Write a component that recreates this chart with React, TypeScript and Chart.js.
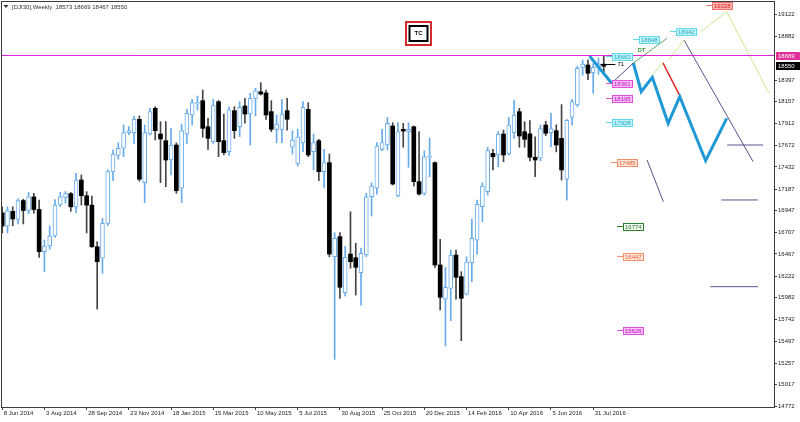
import React, { useEffect, useRef } from 'react';
import { Chart, registerables } from 'chart.js';

Chart.register(...registerables);

const FONT = "'Liberation Sans', Arial, sans-serif";

// ---- header ----
const symbolTitle = '[DJI30],Weekly';

// ---- weekly candles (index 0 = week of 8 Jun 2014) ----
const opens = [
  16924, 16776, 16940, 16851, 17060, 16950, 17100, 16960, 16492, 16555,
  16666, 17010, 17095, 17137, 16990, 17288, 17113, 17009, 16547, 16420,
  16807, 17380, 17560, 17640, 17813, 17813, 17961, 17258, 17798, 18083,
  17798, 17724, 17510, 17676, 17196, 17798, 18009, 18131, 18168, 17879,
  17713, 18157, 17724, 17602, 18057, 17879, 18109, 18020, 18194, 18267,
  18254, 18046, 17850, 17850, 18057, 17651, 17472, 17700, 18072, 17602,
  17724, 17380, 17480, 16436, 16659, 16037, 16466, 16425, 16259, 16455,
  17102, 17196, 17628, 17676, 17887, 17110, 17850, 17824, 17879, 17269,
  17140, 17540, 17480, 16345, 15964, 16085, 16455, 16215, 16022, 16370,
  16619, 16991, 17158, 17584, 17565, 17798, 17576, 17813, 18046, 17824,
  17800, 17540, 17530, 17898, 17813, 17835, 17750, 17296, 17983, 18120,
  18538, 18564, 18478, 18538, 18573,
];
const highs = [
  16990, 16990, 16990, 17080, 17075, 17150, 17140, 17065, 16622, 16777,
  17070, 17150, 17160, 17150, 17362, 17343, 17158, 17110, 16603, 16862,
  17400, 17620, 17700, 17898, 17880, 17998, 17998, 17898, 18083, 18101,
  17935, 17935, 17861, 17700, 17909, 18072, 18183, 18220, 18286, 17972,
  18183, 18170, 18020, 18100, 18101, 18157, 18194, 18250, 18306, 18368,
  18286, 18168, 18009, 18183, 18194, 17835, 17850, 18157, 18146, 17798,
  17739, 17628, 17576, 16703, 16703, 16550, 16936, 16585, 16533, 17140,
  17258, 17702, 17850, 17983, 17924, 17924, 17917, 17924, 17887, 17824,
  17613, 17752, 17490, 16630, 16319, 16511, 16511, 16270, 16436, 16851,
  17065, 17258, 17651, 17629, 17824, 17842, 17983, 18175, 18083, 17935,
  17946, 17768, 17900, 17940, 18028, 17900, 18124, 17960, 18180, 18550,
  18620, 18620, 18580, 18640, 18669,
];
const lows = [
  16700, 16700, 16780, 16800, 16800, 16910, 16920, 16430, 16270, 16520,
  16650, 16990, 17030, 16940, 16925, 17010, 16700, 16540, 15855, 16252,
  16780, 17280, 17520, 17546, 17790, 17695, 17274, 17036, 17787, 17731,
  17258, 17214, 17343, 17140, 17036, 17695, 17898, 18064, 17762, 17628,
  17695, 17546, 17565, 17560, 17750, 17768, 17917, 17676, 18000, 18230,
  17961, 17824, 17702, 17702, 17842, 17576, 17443, 17602, 17546, 17399,
  17280, 17200, 16436, 15298, 15975, 16000, 16308, 16011, 15900, 16436,
  16888, 17130, 17613, 17620, 17232, 17102, 17651, 17428, 17221, 17120,
  17121, 17324, 16319, 15845, 15446, 15727, 15964, 15505, 16011, 16159,
  16466, 16825, 17121, 17400, 17436, 17491, 17565, 17750, 17651, 17651,
  17500, 17324, 17500, 17780, 17657, 17600, 17288, 17065, 17900, 18100,
  18450, 18400, 18250, 18460, 18467,
];
const closes = [
  16776, 16947, 16855, 17060, 16950, 17100, 16960, 16492, 16555, 16666,
  17010, 17100, 17137, 16990, 17288, 17113, 17009, 16547, 16381, 16807,
  17380, 17576, 17640, 17813, 17835, 17961, 17296, 17813, 18046, 17835,
  17743, 17510, 17676, 17169, 17835, 18028, 18146, 18146, 17861, 17750,
  18113, 17713, 17591, 18065, 17835, 18094, 18020, 18194, 18278, 18242,
  18009, 17850, 17909, 18020, 17961, 17731, 17768, 18094, 17565, 17702,
  17380, 17480, 16466, 16641, 16097, 16430, 16381, 16319, 16475, 17102,
  17221, 17665, 17702, 17917, 17243, 17824, 17831, 17850, 17269, 17132,
  17546, 17548, 16345, 15986, 16097, 16455, 16208, 15975, 16381, 16641,
  17018, 17221, 17613, 17546, 17798, 17565, 17898, 18009, 17776, 17739,
  17540, 17510, 17857, 17806, 17857, 17676, 17399, 17950, 18157, 18527,
  18575, 18472, 18538, 18576, 18550,
];

// ---- axis ticks ----
const dateTickIdx = [0, 8, 16, 24, 32, 40, 48, 56, 64, 72, 80, 88, 96, 104, 112];
const dateTickLabels = [
  '8 Jun 2014', '3 Aug 2014', '28 Sep 2014', '23 Nov 2014', '18 Jan 2015',
  '15 Mar 2015', '10 May 2015', '5 Jul 2015', '30 Aug 2015', '25 Oct 2015',
  '20 Dec 2015', '14 Feb 2016', '10 Apr 2016', '5 Jun 2016', '31 Jul 2016',
];
const priceTicks = [
  19122, 18882, 18397, 18157, 17912, 17672, 17432, 17187, 16947, 16707,
  16467, 16222, 15982, 15742, 15497, 15257, 15017, 14772,
];

// ---- drawn objects: [bar index, price] ----
const resistanceLevel = 18669;
const blueWaveA: [number, number][] = [[111.3, 18664], [115.5, 18361]];
const blueWaveB: [number, number][] = [
  [119.6, 18586], [121.1, 18267], [123.2, 18427], [126.2, 17917],
  [128.4, 18212], [133.3, 17502], [137.3, 17972],
];
const slateLink: [number, number][] = [[115.5, 18361], [119.6, 18586]];
const dtLine: [number, number][] = [[119.6, 18586], [126.0, 18860]];
const redLeg: [number, number][] = [[125.2, 18589], [128.4, 18223]];
const limeA: [number, number][] = [[123.2, 18453], [125.3, 18597]];
const limeB: [number, number][] = [[126.3, 18619], [129.2, 18841]];
const limeC: [number, number][] = [[132.3, 18930], [137.3, 19155], [145.3, 18253]];
const slateDiagA: [number, number][] = [[129.2, 18841], [142.3, 17491]];
const slateDiagB: [number, number][] = [[122.2, 17510], [125.3, 17047]];
const slateFlatA: [number, number][] = [[137.4, 17676], [144.2, 17676]];
const slateFlatB: [number, number][] = [[136.3, 17066], [143.2, 17066]];
const slateFlatC: [number, number][] = [[134.2, 16104], [143.2, 16104]];

// price tags
const tagValues = [19228, 18942, 18848, 18663, 18361, 18195, 17928, 17485, 16774, 16447, 15626];
const tagIdx = [134.6, 127.6, 120.6, 115.6, 115.6, 115.6, 115.6, 116.5, 117.6, 117.6, 117.6];
const tagKinds = ['red', 'cyan', 'cyan', 'cyan', 'magenta', 'magenta', 'cyan', 'orange', 'green', 'orange', 'magenta'];

const dtText = { idx: 120.4, value: 18730, text: 'DT' };
const counterMark = { fromIdx: 113.4, toIdx: 116.2, value: 18575, text: '71' };

const axisMarkValues = [18669, 18550];
const axisMarkKinds = ['magenta', 'black'];

// ---- styles ----
const BULL = '#67abeb';
const BEAR = '#000000';
const BEAR_WICK = '#444444';
const TAG_STYLE: Record<string, { fill: string; stroke: string; text: string }> = {
  red: { fill: '#f9b4b4', stroke: '#f07070', text: '#e02020' },
  cyan: { fill: '#bff3fa', stroke: '#5fd8ea', text: '#27a9c4' },
  magenta: { fill: '#f8c0f8', stroke: '#e050e0', text: '#c010c0' },
  orange: { fill: '#fde3d6', stroke: '#f29070', text: '#e8643c' },
  green: { fill: '#f2faf2', stroke: '#2e7d32', text: '#2e7d32' },
};
const AXIS_MARK_FILL: Record<string, string> = { magenta: '#e0309a', black: '#000000' };

const X_MIN = -0.038;
const X_MAX = 146.26;
const Y_MIN = 14768.8;
const Y_MAX = 19262.9;

function lineDs(pts: [number, number][], color: string, width: number) {
  return {
    type: 'line' as const,
    data: pts.map(([x, y]) => ({ x, y })),
    borderColor: color,
    backgroundColor: color,
    borderWidth: width,
    pointRadius: 0,
    pointHoverRadius: 0,
    tension: 0,
    fill: false,
    order: 0,
  };
}

export default function App() {
  const ref = useRef<HTMLCanvasElement | null>(null);

  useEffect(() => {
    const canvas = ref.current;
    if (!canvas) return;
    const idx = opens.map((_, i) => i);
    const upIdx = idx.filter((i) => closes[i] >= opens[i]);
    const downIdx = idx.filter((i) => closes[i] < opens[i]);

    const barCommon = { grouped: false, borderSkipped: false, minBarLength: 1 };

    const datasets: any[] = [
      lineDs([[X_MIN, resistanceLevel], [X_MAX, resistanceLevel]], '#dd22dd', 1),
      lineDs(slateLink, '#4b4b8c', 1),
      lineDs(dtLine, '#5aa85a', 1),
      lineDs(limeA, '#cfe98f', 1),
      lineDs(limeB, '#cfe98f', 1),
      lineDs(limeC, '#cfe98f', 1),
      lineDs(slateDiagA, '#55558f', 1),
      lineDs(slateDiagB, '#55558f', 1),
      lineDs(slateFlatA, '#55558f', 1),
      lineDs(slateFlatB, '#55558f', 1),
      lineDs(slateFlatC, '#55558f', 1),
      lineDs(blueWaveA, '#1f98d6', 3),
      lineDs(blueWaveB, '#1f98d6', 3),
      lineDs(redLeg, '#e02424', 1.5),
      {
        type: 'bar',
        data: upIdx.map((i) => ({ x: i, y: [opens[i], closes[i]] })),
        backgroundColor: '#ffffff',
        borderColor: BULL,
        borderWidth: 1,
        barThickness: 4,
        order: 1,
        ...barCommon,
      },
      {
        type: 'bar',
        data: downIdx.map((i) => ({ x: i, y: [opens[i], closes[i]] })),
        backgroundColor: BEAR,
        borderColor: BEAR,
        borderWidth: 0,
        barThickness: 4,
        order: 1,
        ...barCommon,
      },
      {
        type: 'bar',
        data: upIdx.map((i) => ({ x: i, y: [lows[i], highs[i]] })),
        backgroundColor: BULL,
        borderWidth: 0,
        barThickness: 1,
        order: 2,
        ...barCommon,
      },
      {
        type: 'bar',
        data: downIdx.map((i) => ({ x: i, y: [lows[i], highs[i]] })),
        backgroundColor: BEAR_WICK,
        borderWidth: 0,
        barThickness: 1,
        order: 2,
        ...barCommon,
      },
    ];

    const overlayPlugin = {
      id: 'overlay',
      beforeDraw(chart: any) {
        const { ctx } = chart;
        ctx.save();
        ctx.fillStyle = '#ffffff';
        ctx.fillRect(0, 0, chart.width, chart.height);
        ctx.restore();
      },
      afterDatasetsDraw(chart: any) {
        const { ctx } = chart;
        const xs = chart.scales.x;
        const ys = chart.scales.y;
        ctx.save();
        ctx.font = `6px ${FONT}`;
        ctx.textBaseline = 'middle';
        // price tags
        tagValues.forEach((v, k) => {
          const st = TAG_STYLE[tagKinds[k]];
          const x = Math.round(xs.getPixelForValue(tagIdx[k]));
          const y = Math.round(ys.getPixelForValue(v));
          const text = String(v);
          const w = Math.round(ctx.measureText(text).width) + 4;
          ctx.strokeStyle = st.stroke;
          ctx.lineWidth = 1;
          ctx.beginPath();
          ctx.moveTo(x - 6, y + 0.5);
          ctx.lineTo(x, y + 0.5);
          ctx.stroke();
          ctx.fillStyle = st.fill;
          ctx.fillRect(x, y - 3, w, 8);
          ctx.strokeRect(x + 0.5, y - 2.5, w - 1, 7);
          ctx.fillStyle = st.text;
          ctx.textAlign = 'left';
          ctx.fillText(text, x + 2, y + 1);
        });
        // DT text
        ctx.fillStyle = '#3f9a3f';
        ctx.font = `bold 6px ${FONT}`;
        ctx.fillText(dtText.text, xs.getPixelForValue(dtText.idx), ys.getPixelForValue(dtText.value));
        // counter mark
        const cy = Math.round(ys.getPixelForValue(counterMark.value)) + 0.5;
        ctx.strokeStyle = '#000000';
        ctx.lineWidth = 1;
        ctx.beginPath();
        ctx.moveTo(xs.getPixelForValue(counterMark.fromIdx), cy);
        ctx.lineTo(xs.getPixelForValue(counterMark.toIdx), cy);
        ctx.stroke();
        ctx.fillStyle = '#000000';
        ctx.font = `6px ${FONT}`;
        ctx.fillText(counterMark.text, xs.getPixelForValue(counterMark.toIdx) + 2, cy);
        ctx.restore();
      },
      afterDraw(chart: any) {
        const { ctx, chartArea } = chart;
        const ys = chart.scales.y;
        ctx.save();
        // frame
        ctx.strokeStyle = '#3c3c3c';
        ctx.lineWidth = 1;
        ctx.strokeRect(chartArea.left - 0.5, chartArea.top - 0.5, chartArea.right - chartArea.left + 1, chartArea.bottom - chartArea.top + 1);
        // header
        ctx.fillStyle = '#333333';
        ctx.beginPath();
        ctx.moveTo(3.5, 5);
        ctx.lineTo(8.5, 5);
        ctx.lineTo(6, 8);
        ctx.closePath();
        ctx.fill();
        ctx.font = `6px ${FONT}`;
        ctx.textBaseline = 'middle';
        ctx.textAlign = 'left';
        const last = opens.length - 1;
        ctx.fillText(`${symbolTitle}  ${opens[last]} ${highs[last]} ${lows[last]} ${closes[last]}`, 12, 7);
        // TC box
        ctx.strokeStyle = '#d42a2a';
        ctx.lineWidth = 2;
        ctx.strokeRect(406, 22, 25, 23);
        ctx.strokeStyle = '#000000';
        ctx.lineWidth = 2;
        ctx.strokeRect(409.5, 26, 18, 15);
        ctx.fillStyle = '#000000';
        ctx.font = `bold 6px ${FONT}`;
        ctx.textAlign = 'center';
        ctx.fillText('TC', 418.5, 33.5);
        // axis price marks
        ctx.font = `6px ${FONT}`;
        ctx.textAlign = 'left';
        axisMarkValues.forEach((v, k) => {
          const y = Math.round(ys.getPixelForValue(v));
          ctx.fillStyle = AXIS_MARK_FILL[axisMarkKinds[k]];
          ctx.fillRect(chartArea.right + 2, y - 4, 24, 8);
          ctx.fillStyle = '#ffffff';
          ctx.fillText(String(v), chartArea.right + 4, y);
        });
        ctx.restore();
      },
    };

    const chart = new Chart(canvas, {
      type: 'bar',
      data: { datasets },
      options: {
        responsive: false,
        maintainAspectRatio: false,
        devicePixelRatio: 1,
        animation: false,
        events: [],
        layout: { padding: { left: 2, top: 2, right: 0, bottom: 0 } },
        plugins: { legend: { display: false }, tooltip: { enabled: false } },
        scales: {
          x: {
            type: 'linear',
            min: X_MIN,
            max: X_MAX,
            offset: false,
            border: { display: false },
            grid: { display: true, drawOnChartArea: false, drawTicks: true, tickLength: 3, tickColor: '#444444', offset: false },
            afterBuildTicks: (s: any) => {
              s.ticks = dateTickIdx.map((v) => ({ value: v }));
            },
            afterFit: (s: any) => {
              s.height = 15;
              s.paddingLeft = 0;
              s.paddingRight = 0;
            },
            ticks: {
              autoSkip: false,
              maxRotation: 0,
              minRotation: 0,
              align: 'start',
              labelOffset: 1.5,
              padding: 0,
              color: '#222222',
              font: { family: FONT, size: 6 },
              callback: (_v: any, i: number) => dateTickLabels[i],
            },
          },
          y: {
            type: 'linear',
            position: 'right',
            min: Y_MIN,
            max: Y_MAX,
            border: { display: false },
            grid: { display: true, drawOnChartArea: false, drawTicks: true, tickLength: 3, tickColor: '#444444' },
            afterBuildTicks: (s: any) => {
              s.ticks = priceTicks.map((v) => ({ value: v }));
            },
            afterFit: (s: any) => {
              s.width = 26;
              s.paddingTop = 0;
              s.paddingBottom = 0;
            },
            ticks: {
              padding: 1,
              color: '#222222',
              font: { family: FONT, size: 6 },
              callback: (v: any) => String(v),
            },
          },
        },
      } as any,
      plugins: [overlayPlugin],
    });
    return () => chart.destroy();
  }, []);

  return (
    <div style={{ position: 'fixed', left: 0, top: 0, width: 800, height: 422, background: '#ffffff' }}>
      <canvas ref={ref} width={800} height={422} style={{ display: 'block' }} />
    </div>
  );
}
